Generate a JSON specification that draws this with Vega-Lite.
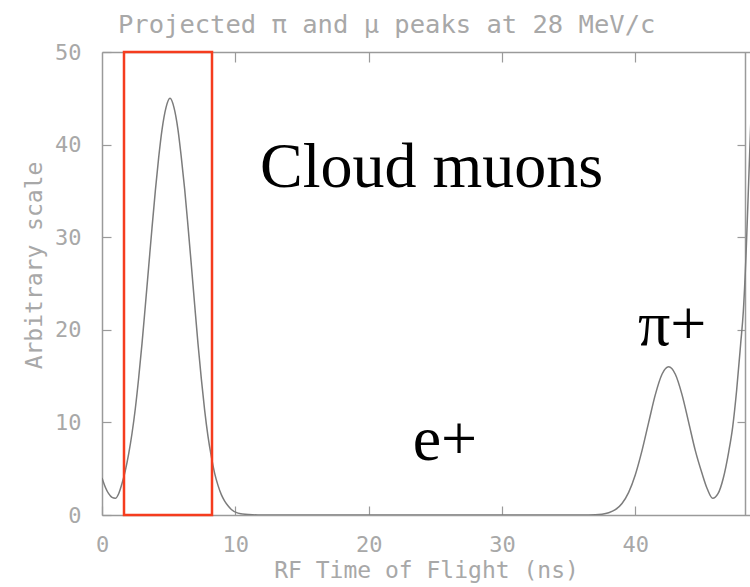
{
  "$schema": "https://vega.github.io/schema/vega-lite/v6.json",
  "width": 648,
  "height": 463,
  "autosize": {"type": "none"},
  "padding": {"left": 102, "top": 52, "right": 0, "bottom": 72},
  "background": "white",
  "title": {
    "text": "Projected π and μ peaks at 28 MeV/c",
    "anchor": "start",
    "frame": "group",
    "dx": 16,
    "dy": 16,
    "offset": 19,
    "font": "DejaVu Sans Mono",
    "fontSize": 25.5,
    "fontWeight": "normal",
    "color": "#a8a8a8"
  },
  "config": {
    "view": {"stroke": null},
    "axis": {
      "grid": false,
      "domainColor": "#9a9a9a",
      "domainWidth": 1.5,
      "tickColor": "#9a9a9a",
      "tickWidth": 1.2,
      "labelColor": "#a8a8a8",
      "labelFont": "DejaVu Sans Mono",
      "labelFontSize": 22,
      "labelFlush": false,
      "labelOverlap": false,
      "labelBound": false,
      "titleColor": "#a8a8a8",
      "titleFont": "DejaVu Sans Mono",
      "titleFontSize": 23,
      "titleFontWeight": "normal"
    }
  },
  "layer": [
    {
      "data": {
        "values": [
          {"t": 0, "v": 4.0}, {"t": 0.25, "v": 3.0}, {"t": 0.5, "v": 2.3}, {"t": 0.75, "v": 1.9},
          {"t": 1.0, "v": 1.8}, {"t": 1.25, "v": 2.3}, {"t": 1.5, "v": 3.4}, {"t": 1.75, "v": 4.8},
          {"t": 2.0, "v": 6.6}, {"t": 2.25, "v": 8.8}, {"t": 2.5, "v": 11.5}, {"t": 2.75, "v": 14.8},
          {"t": 3.0, "v": 18.5}, {"t": 3.25, "v": 22.6}, {"t": 3.5, "v": 26.8}, {"t": 3.75, "v": 31.0},
          {"t": 4.0, "v": 35.0}, {"t": 4.25, "v": 38.6}, {"t": 4.5, "v": 41.6}, {"t": 4.8, "v": 44.0},
          {"t": 5.1, "v": 45.0}, {"t": 5.4, "v": 44.0}, {"t": 5.7, "v": 41.6}, {"t": 5.95, "v": 38.6},
          {"t": 6.2, "v": 35.2}, {"t": 6.45, "v": 31.2}, {"t": 6.7, "v": 27.0}, {"t": 6.95, "v": 22.7},
          {"t": 7.2, "v": 18.5}, {"t": 7.45, "v": 14.7}, {"t": 7.7, "v": 11.3}, {"t": 7.95, "v": 8.5},
          {"t": 8.2, "v": 6.3}, {"t": 8.45, "v": 4.5}, {"t": 8.7, "v": 3.2}, {"t": 8.95, "v": 2.2},
          {"t": 9.2, "v": 1.5}, {"t": 9.45, "v": 1.0}, {"t": 9.7, "v": 0.6}, {"t": 10.2, "v": 0.2},
          {"t": 11, "v": 0.05}, {"t": 12, "v": 0}, {"t": 20, "v": 0}, {"t": 30, "v": 0},
          {"t": 36.5, "v": 0}, {"t": 37.5, "v": 0.09}, {"t": 38, "v": 0.24}, {"t": 38.5, "v": 0.57},
          {"t": 39, "v": 1.25}, {"t": 39.5, "v": 2.45}, {"t": 40, "v": 4.35}, {"t": 40.5, "v": 6.95},
          {"t": 41, "v": 10.0}, {"t": 41.5, "v": 13.0}, {"t": 42, "v": 15.2}, {"t": 42.5, "v": 16.0},
          {"t": 43, "v": 15.2}, {"t": 43.5, "v": 13.0}, {"t": 44, "v": 10.0}, {"t": 44.5, "v": 6.95},
          {"t": 45, "v": 4.5}, {"t": 45.4, "v": 2.8}, {"t": 45.8, "v": 1.8}, {"t": 46.2, "v": 2.3},
          {"t": 46.6, "v": 4.0}, {"t": 47.0, "v": 6.8}, {"t": 47.3, "v": 9.5}, {"t": 47.6, "v": 13.5},
          {"t": 47.9, "v": 18.5}, {"t": 48.1, "v": 22.0}, {"t": 48.3, "v": 28.0}, {"t": 48.5, "v": 36.0},
          {"t": 48.7, "v": 44.0}
        ]
      },
      "mark": {"type": "line", "color": "#7c7c7c", "strokeWidth": 1.5, "clip": true, "interpolate": "monotone"},
      "encoding": {
        "x": {
          "field": "t", "type": "quantitative",
          "scale": {"domain": [0, 48.6], "nice": false, "zero": false},
          "axis": {"orient": "bottom", "values": [0, 10, 20, 30, 40], "tickSize": -9, "labelPadding": 28, "title": "RF Time of Flight (ns)", "titlePadding": 4}
        },
        "y": {
          "field": "v", "type": "quantitative",
          "scale": {"domain": [0, 50], "nice": false, "zero": false},
          "axis": {"orient": "left", "values": [0, 10, 20, 30, 40, 50], "tickSize": -9, "labelPadding": 30, "title": "Arbitrary scale", "titlePadding": 8, "titleY": 213}
        }
      }
    },
    {
      "data": {"values": [{"x0": 1.65, "x1": 8.25, "y0": 0, "y1": 50}]},
      "mark": {"type": "rect", "fill": null, "fillOpacity": 0, "stroke": "#f53c1e", "strokeWidth": 2.5},
      "encoding": {
        "x": {"field": "x0", "type": "quantitative", "axis": {"orient": "top", "values": [10, 20, 30, 40], "labels": false, "tickSize": -10, "title": null}},
        "x2": {"field": "x1"},
        "y": {"field": "y0", "type": "quantitative", "axis": {"orient": "right", "values": [10, 20, 30, 40], "labels": false, "tickSize": -8, "offset": -5, "title": null}},
        "y2": {"field": "y1"}
      }
    },
    {
      "data": {
        "values": [
          {"label": "Cloud muons", "t": 11.85, "v": 35.4},
          {"label": "π+", "t": 40.2, "v": 18.4},
          {"label": "e+", "t": 23.3, "v": 5.9}
        ]
      },
      "mark": {"type": "text", "align": "left", "baseline": "alphabetic", "font": "Liberation Serif", "fontSize": 64, "color": "black"},
      "encoding": {
        "x": {"field": "t", "type": "quantitative", "axis": null},
        "y": {"field": "v", "type": "quantitative", "axis": null},
        "text": {"field": "label"}
      }
    }
  ],
  "resolve": {"axis": {"x": "independent", "y": "independent"}}
}
